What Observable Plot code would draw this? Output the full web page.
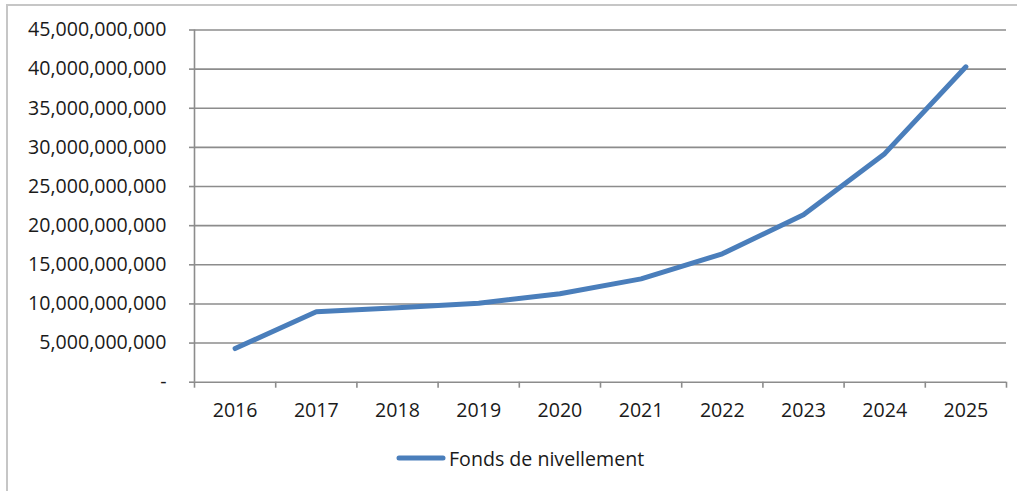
<!DOCTYPE html>
<html><head><meta charset="utf-8">
<script src="https://cdn.jsdelivr.net/npm/d3@7"></script>
<script src="https://cdn.jsdelivr.net/npm/@observablehq/plot@0.6"></script>
<style>
html,body{margin:0;padding:0;background:#fff;overflow:hidden;width:1017px;height:491px;}
#wrap{position:relative;width:1017px;height:491px;overflow:hidden;}
#border{position:absolute;left:6px;top:4px;width:1030px;height:520px;border-left:2px solid #c6c6c6;border-top:2px solid #c6c6c6;}
#chart{position:absolute;left:0;top:0;}
#legend{position:absolute;left:396px;top:445px;height:26px;display:flex;align-items:center;font-family:"Open Sans",sans-serif;font-size:19.6px;color:#1a1a1a;}
#legend svg{margin-right:3px;}
</style></head>
<body><div id="wrap"><div id="border"></div><div id="chart"></div><div id="legend"></div></div>
<script>
const years = [2016, 2017, 2018, 2019, 2020, 2021, 2022, 2023, 2024, 2025];
const values = [4.3e9, 9.0e9, 9.5e9, 10.1e9, 11.3e9, 13.2e9, 16.4e9, 21.4e9, 29.2e9, 40.3e9];
const seriesName = "Fonds de nivellement";
const yTicks = [0, 5e9, 10e9, 15e9, 20e9, 25e9, 30e9, 35e9, 40e9, 45e9];

const lineColor = "#4a7ebb";
const gridColor = "#8c8c8c";
const textColor = "#1a1a1a";
const data = years.map((year, i) => ({year, value: values[i]}));
const edges = years.map(y => y - 0.5).concat([years[years.length - 1] + 0.5]);

const chart = Plot.plot({
  width: 1017,
  height: 440,
  marginLeft: 194,
  marginRight: 11,
  marginTop: 29.5,
  marginBottom: 58.3,
  style: {fontFamily: "'Open Sans', sans-serif", fontSize: "19.6px", color: textColor, background: "transparent"},
  x: {domain: [edges[0], edges[edges.length - 1]]},
  y: {domain: [0, 45e9]},
  marks: [
    Plot.gridY(yTicks, {stroke: gridColor, strokeOpacity: 1, strokeWidth: 1.6}),
    Plot.ruleX([edges[0]], {stroke: gridColor, strokeWidth: 1.6}),
    Plot.axisY({ticks: yTicks, tickFormat: d => d === 0 ? "-" : d3.format(",")(d), tickSize: 5, tickPadding: 23, stroke: gridColor, strokeWidth: 1.6, fill: textColor, label: null}),
    Plot.axisX({ticks: edges, tickFormat: () => "", tickSize: 6, stroke: gridColor, strokeWidth: 1.6, label: null}),
    Plot.axisX({ticks: years, tickFormat: d => String(d), tickSize: 0, tickPadding: 21, fill: textColor, label: null}),
    Plot.line(data, {x: "year", y: "value", stroke: lineColor, strokeWidth: 5, strokeLinecap: "round", strokeLinejoin: "round"})
  ]
});
document.getElementById("chart").appendChild(chart);

const legend = document.getElementById("legend");
legend.innerHTML = `<svg width="50" height="10"><line x1="3" y1="5" x2="47" y2="5" stroke="${lineColor}" stroke-width="5" stroke-linecap="round"/></svg><span></span>`;
legend.querySelector("span").textContent = seriesName;
</script>
</body></html>
